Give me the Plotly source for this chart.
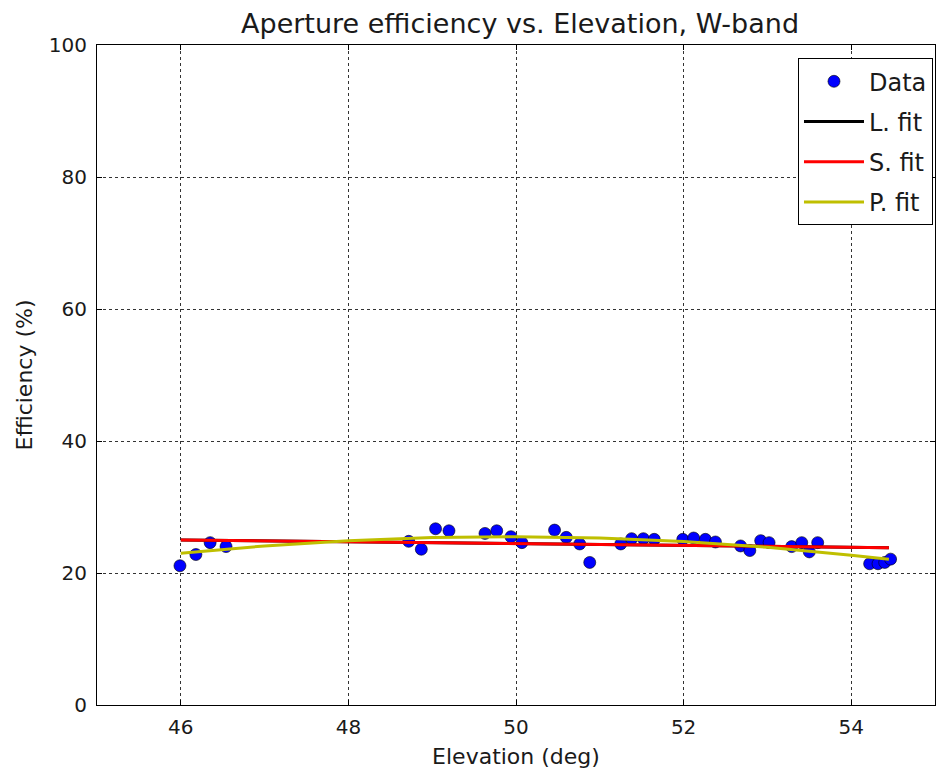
import plotly.graph_objects as go

# Data
elevation = [45.99, 46.18, 46.35, 46.54, 48.72, 48.87, 49.04, 49.2, 49.63, 49.77,
             49.94, 50.07, 50.46, 50.6, 50.76, 50.88, 51.25, 51.38, 51.52, 51.65,
             51.99, 52.12, 52.26, 52.38, 52.68, 52.79, 52.92, 53.02, 53.29, 53.41,
             53.5, 53.6, 54.22, 54.32, 54.4, 54.47]
efficiency = [21.1, 22.8, 24.6, 24.0, 24.8, 23.6, 26.7, 26.4, 26.0, 26.4,
              25.5, 24.6, 26.5, 25.4, 24.4, 21.6, 24.4, 25.2, 25.2, 25.1,
              25.1, 25.3, 25.1, 24.7, 24.1, 23.4, 24.9, 24.6, 24.0, 24.6,
              23.2, 24.6, 21.4, 21.4, 21.6, 22.1]

fit_x = [46.0, 47.0, 48.0, 49.0, 50.0, 51.0, 52.0, 53.0, 54.0, 54.45]
l_fit = [25.0, 24.86, 24.72, 24.58, 24.45, 24.31, 24.17, 24.03, 23.89, 23.83]
s_fit = [25.0, 24.86, 24.72, 24.58, 24.45, 24.31, 24.17, 24.03, 23.89, 23.83]
p_fit = [23.0, 24.1, 24.9, 25.37, 25.5, 25.3, 24.76, 23.9, 22.7, 22.1]

x_ticks = [46, 48, 50, 52, 54]
y_ticks = [0, 20, 40, 60, 80, 100]

FONT = "DejaVu Sans"
TXT = "#1a1a1a"

fig = go.Figure()
fig.add_trace(go.Scatter(x=elevation, y=efficiency, mode="markers", name="Data",
                         legendgroup="a",
                         marker=dict(color="#0000ff", size=12,
                                     line=dict(color="black", width=0.6))))
fig.add_trace(go.Scatter(x=fit_x, y=l_fit, mode="lines", name="L. fit",
                         legendgroup="b", line=dict(color="black", width=3)))
fig.add_trace(go.Scatter(x=fit_x, y=s_fit, mode="lines", name="S. fit",
                         legendgroup="c", line=dict(color="#ff0000", width=3)))
fig.add_trace(go.Scatter(x=fit_x, y=p_fit, mode="lines", name="P. fit",
                         legendgroup="d", line=dict(color="#bfbf00", width=3)))

axis_common = dict(showline=True, linecolor="black", linewidth=1, mirror="ticks",
                   ticks="inside", ticklen=5, tickcolor="black",
                   showgrid=True, gridcolor="#333333", gridwidth=1, griddash="dot",
                   zeroline=False, automargin=False,
                   tickfont=dict(family=FONT, size=20, color=TXT))

fig.update_xaxes(range=[45, 55], tickvals=x_ticks, ticklabelstandoff=4,
                 title=dict(text="Elevation (deg)", font=dict(family=FONT, size=22, color=TXT),
                            standoff=10),
                 **axis_common)
fig.update_yaxes(range=[0, 100], tickvals=y_ticks, ticklabelstandoff=5,
                 title=dict(text="Efficiency (%)", font=dict(family=FONT, size=22, color=TXT),
                            standoff=10),
                 **axis_common)

fig.update_layout(
    width=937, height=772,
    margin=dict(l=97, r=2, t=45, b=67),
    paper_bgcolor="white", plot_bgcolor="white",
    title=dict(text="Aperture efficiency vs. Elevation, W-band", x=0.555, xanchor="center",
               y=0.969, yanchor="middle",
               font=dict(family=FONT, size=27, color=TXT)),
    legend=dict(x=0.9976, y=0.980, xanchor="right", yanchor="top",
                bgcolor="white", bordercolor="black", borderwidth=1,
                font=dict(family=FONT, size=24, color=TXT),
                tracegroupgap=6, traceorder="grouped", itemwidth=60),
    showlegend=True,
)

# Remove the default 8px page margin so the 937x772 figure fills the window exactly.
fig.write_html("out.html", config={"displayModeBar": False},
               post_script="document.body.style.margin='0px';")
